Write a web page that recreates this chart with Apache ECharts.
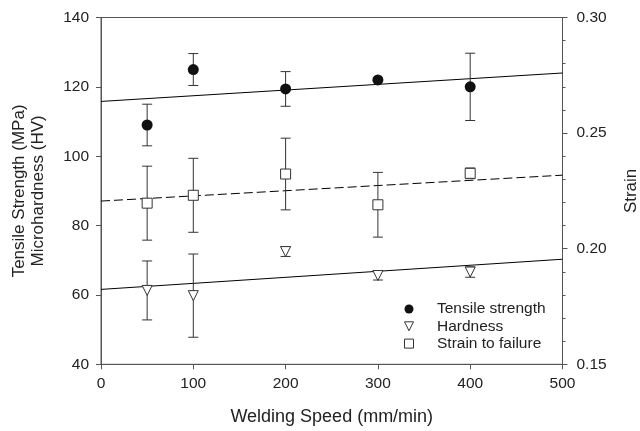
<!DOCTYPE html>
<html>
<head>
<meta charset="utf-8">
<script src="https://cdn.jsdelivr.net/npm/echarts@6/dist/echarts.min.js"></script>
<style>
html,body{margin:0;padding:0;background:#fff;overflow:hidden;}
#chart{width:640px;height:431px;}
</style>
</head>
<body>
<div id="chart"></div>
<script>
// ---- data ----
const speeds = [50, 100, 200, 300, 400];
const tensile = [109, 125, 119.4, 122, 120];
const tensileErr = [6, 4.6, 5, 0, 9.7];
const hardness = [61.3, 59.8, 72.5, 65.6, 66.6];
const hardnessErr = [8.5, 12, 1.4, 1.3, 1.5];
const strain = [0.2197, 0.2231, 0.2323, 0.2190, 0.2326];
const strainErr = [0.016, 0.016, 0.0155, 0.014, 0.0023];
const fitX = [0, 500];
const tensileFit = [115.8, 124.0];
const hardnessFit = [61.6, 70.3];
const strainFit = [0.2206, 0.2318];
const legendNames = ['Tensile strength', 'Hardness', 'Strain to failure'];

const downTri = 'path://M0,0L10,0L5,10Z';
const square = 'path://M0,0L10,0L10,10L0,10Z';
const font = 'Liberation Sans, Arial, sans-serif';
const axisColor = '#555';
const textColor = '#222';

function pts(xs, ys) { return xs.map((x, i) => [x, ys[i]]); }
function errData(xs, ys, es) {
  return xs.map((x, i) => [x, ys[i] - es[i], ys[i] + es[i]]).filter((d, i) => es[i] > 0);
}
function errRender(params, api) {
  const x = api.value(0);
  const lo = api.coord([x, api.value(1)]);
  const hi = api.coord([x, api.value(2)]);
  const hw = 5;
  const style = { stroke: '#333', lineWidth: 1, fill: null };
  return {
    type: 'group',
    children: [
      { type: 'line', shape: { x1: lo[0], y1: lo[1], x2: hi[0], y2: hi[1] }, style },
      { type: 'line', shape: { x1: lo[0] - hw, y1: lo[1], x2: lo[0] + hw, y2: lo[1] }, style },
      { type: 'line', shape: { x1: hi[0] - hw, y1: hi[1], x2: hi[0] + hw, y2: hi[1] }, style }
    ]
  };
}

const chart = echarts.init(document.getElementById('chart'), null, { renderer: 'canvas', width: 640, height: 431 });
const axisCommon = {
  axisLine: { show: true, lineStyle: { color: axisColor, width: 1 } },
  axisTick: { show: true, inside: false, length: 5, lineStyle: { color: axisColor } },
  splitLine: { show: false },
  axisLabel: { color: textColor, fontSize: 15.5, fontFamily: font },
  nameTextStyle: { color: textColor, fontSize: 17, fontFamily: font }
};

chart.setOption({
  animation: false,
  backgroundColor: '#fff',
  grid: { left: 101, right: 77.5, top: 17.5, bottom: 66.7, containLabel: false, outerBoundsMode: 'none',
    show: true, borderColor: axisColor, borderWidth: 1, backgroundColor: 'transparent' },
  legend: {
    orient: 'vertical', align: 'left',
    left: 404, top: 301, padding: 0,
    itemWidth: 46, itemHeight: 9, itemGap: 1.3,
    textStyle: { color: textColor, fontSize: 15.5, fontFamily: font },
    data: [
      { name: legendNames[0], icon: 'circle', itemStyle: { borderWidth: 0 } },
      { name: legendNames[1], icon: downTri, itemStyle: { borderWidth: 1 } },
      { name: legendNames[2], icon: square, itemStyle: { borderWidth: 1 } }
    ]
  },
  xAxis: Object.assign({}, axisCommon, {
    type: 'value', min: 0, max: 500, interval: 100,
    name: 'Welding Speed (mm/min)', nameLocation: 'middle', nameGap: 44,
    nameTextStyle: Object.assign({}, axisCommon.nameTextStyle, { fontSize: 18 }),
    axisLabel: Object.assign({}, axisCommon.axisLabel, { margin: 11 })
  }),
  yAxis: [
    Object.assign({}, axisCommon, {
      type: 'value', min: 40, max: 140, interval: 20, position: 'left',
      name: 'Tensile Strength (MPa)\nMicrohardness (HV)', nameLocation: 'middle', nameGap: 53, nameRotate: 90,
      nameTextStyle: Object.assign({}, axisCommon.nameTextStyle, { lineHeight: 19 }),
      axisLabel: Object.assign({}, axisCommon.axisLabel, { margin: 12 })
    }),
    Object.assign({}, axisCommon, {
      type: 'value', min: 0.15, max: 0.30, interval: 0.05, position: 'right',
      name: 'Strain', nameLocation: 'middle', nameGap: 60, nameRotate: 90,
      minorTick: { show: true, splitNumber: 5, length: 3, lineStyle: { color: axisColor } },
      axisLabel: Object.assign({}, axisCommon.axisLabel, { margin: 14, formatter: v => v.toFixed(2) })
    })
  ],
  series: [
    { type: 'line', data: pts(fitX, tensileFit), yAxisIndex: 0, showSymbol: false, silent: true, z: 1,
      lineStyle: { color: '#000', width: 1 } },
    { type: 'line', data: pts(fitX, hardnessFit), yAxisIndex: 0, showSymbol: false, silent: true, z: 1,
      lineStyle: { color: '#000', width: 1 } },
    { type: 'line', data: pts(fitX, strainFit), yAxisIndex: 1, showSymbol: false, silent: true, z: 1,
      lineStyle: { color: '#000', width: 1, type: [9, 4] } },
    { type: 'custom', yAxisIndex: 0, data: errData(speeds, tensile, tensileErr), renderItem: errRender, z: 2, silent: true },
    { type: 'custom', yAxisIndex: 0, data: errData(speeds, hardness, hardnessErr), renderItem: errRender, z: 2, silent: true },
    { type: 'custom', yAxisIndex: 1, data: errData(speeds, strain, strainErr), renderItem: errRender, z: 2, silent: true },
    { name: legendNames[0], type: 'scatter', yAxisIndex: 0, data: pts(speeds, tensile), symbol: 'circle', symbolSize: 11, z: 3,
      itemStyle: { color: '#111', borderColor: '#111', borderWidth: 0, opacity: 1 } },
    { name: legendNames[1], type: 'scatter', yAxisIndex: 0, data: pts(speeds, hardness), symbol: downTri, symbolSize: [10, 10], z: 3,
      itemStyle: { color: '#fff', borderColor: '#333', borderWidth: 1, opacity: 1 } },
    { name: legendNames[2], type: 'scatter', yAxisIndex: 1, data: pts(speeds, strain), symbol: square, symbolSize: 10, z: 3,
      itemStyle: { color: '#fff', borderColor: '#333', borderWidth: 1, opacity: 1 } }
  ]
});
</script>
</body>
</html>
